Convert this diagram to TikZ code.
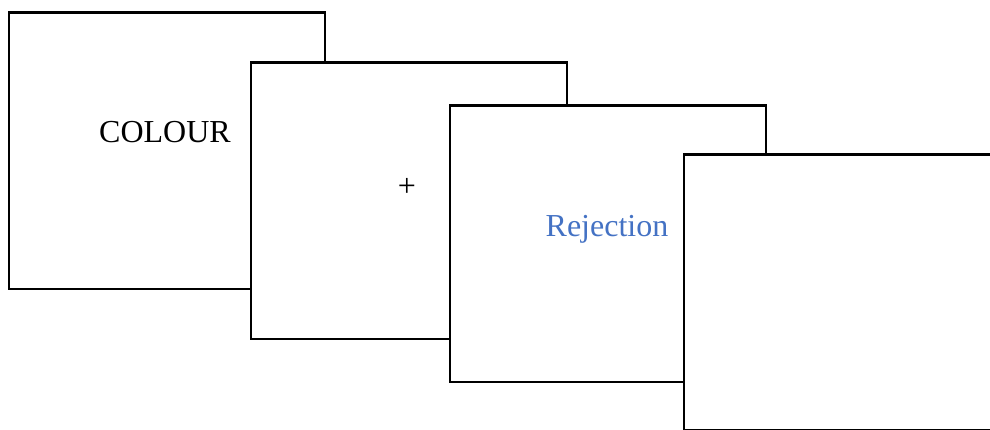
\documentclass[tikz,border=0pt]{standalone}
\usepackage{fontspec}
\setmainfont{Liberation Serif}
\definecolor{rejblue}{HTML}{4472C4}
\begin{document}
\begin{tikzpicture}[x=1pt,y=-1pt,
  card/.style={draw=black, fill=white, line width=2.5pt, anchor=north west, inner sep=0pt},
  label/.style={font=\fontsize{32}{36}\selectfont, inner sep=0pt, anchor=base}]
\useasboundingbox[fill=white] (0,0) rectangle (990,430);
\node[card, minimum width=316pt, minimum height=276pt] (c1) at (7.5,11.5) {};
\node[label] (t1) at (165,143) {COLOUR};
\node[card, minimum width=316pt, minimum height=276pt] (c2) at (249.5,61.5) {};
\node[label, anchor=center] (t2) at (407,187) {+};
\node[card, minimum width=316pt, minimum height=276pt] (c3) at (448.5,104.5) {};
\node[label, text=rejblue] (t3) at (607,237) {Rejection};
\node[card, minimum width=330pt, minimum height=275pt] (c4) at (682.5,153.5) {};
\end{tikzpicture}
\end{document}
